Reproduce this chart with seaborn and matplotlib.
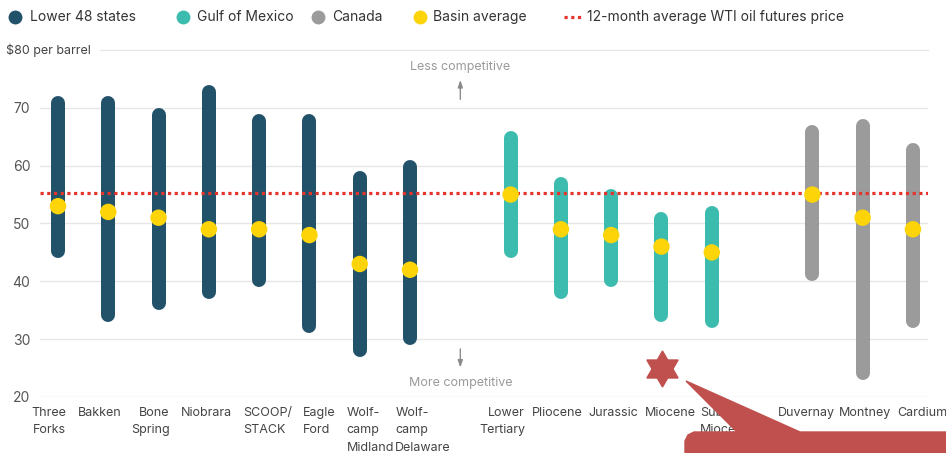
import matplotlib
matplotlib.use("Agg")
import matplotlib.pyplot as plt
import matplotlib.transforms as mtransforms
from matplotlib.lines import Line2D
from matplotlib.patches import Polygon, RegularPolygon
import numpy as np
import pandas as pd
import seaborn as sns

# ---- data -------------------------------------------------------------
basins = ["Three\nForks", "Bakken", "Bone\nSpring", "Niobrara", "SCOOP/\nSTACK",
          "Eagle\nFord", "Wolf-\ncamp\nMidland", "Wolf-\ncamp\nDelaware",
          "Lower\nTertiary", "Pliocene", "Jurassic", "Miocene", "Subsalt\nMiocene",
          "Duvernay", "Montney", "Cardium"]
regions = ["Lower 48 states"] * 8 + ["Gulf of Mexico"] * 5 + ["Canada"] * 3
low_price = [44, 33, 35, 37, 39, 31, 27, 29, 44, 37, 39, 33, 32, 40, 23, 32]
high_price = [72, 72, 70, 74, 69, 69, 59, 61, 66, 58, 56, 52, 53, 67, 68, 64]
basin_avg = [53, 52, 51, 49, 49, 48, 43, 42, 55, 49, 48, 46, 45, 55, 51, 49]
wti_avg = 55.3
y_ticks = [20, 30, 40, 50, 60, 70]

region_order = ["Lower 48 states", "Gulf of Mexico", "Canada"]
palette = {"Lower 48 states": "#22526a", "Gulf of Mexico": "#3cbcae", "Canada": "#9b9b9b"}
avg_color = "#fdd408"
wti_color = "#e5342b"

# label layout: horizontal nudge (px) and alignment of wrapped lines
label_shift = [-9.5, -9, -8.5, -2.5, 8.5, 10, 10.5, 13,
               -8.5, -4, 2.5, 8.5, 14, -5.5, 2, 9]
label_align = ["right", "center", "right", "center", "left", "left", "left", "left",
               "right", "center", "center", "center", "left", "center", "center", "center"]

df = pd.DataFrame({"basin": basins, "region": regions, "low": low_price,
                   "high": high_price, "avg": basin_avg})
# leave one empty slot between regions
df["slot"] = np.arange(len(df)) + df["region"].map(region_order.index)

# ---- figure -----------------------------------------------------------
sns.set_theme(style="white")
plt.rcParams["font.family"] = ["Inter", "DejaVu Sans"]

W, H = 946, 453
fig = plt.figure(figsize=(W / 100, H / 100), dpi=100)
ax = fig.add_axes([40 / W, 1 - 397 / H, 888 / W, 347 / H])
ax.set_xlim(-0.358, 17.30)
ax.set_ylim(20, 80)

# horizontal grid
ax.set_yticks(y_ticks)
ax.yaxis.grid(True, color="#e6e6e6", lw=1)
ax.set_axisbelow(True)
ax.axhline(80, xmin=60 / 888, xmax=1, color="#e6e6e6", lw=1, clip_on=False)
ax.tick_params(axis="y", length=0, pad=7, labelsize=10, labelcolor="#555555")
ax.text(-34 / 888, 80, "$80 per barrel", transform=ax.get_yaxis_transform(),
        ha="left", va="center", fontsize=9, color="#444444")

# range bars with rounded ends that stay inside low..high
bar_px = 14
cap = (bar_px / 2) / (347 / 60)
for reg in region_order:
    sub = df[df["region"] == reg]
    lc = ax.vlines(sub["slot"], sub["low"] + cap, sub["high"] - cap,
                   color=palette[reg], lw=bar_px * 72 / 100, zorder=2)
    lc.set_capstyle("round")

# basin averages
sns.scatterplot(data=df, x="slot", y="avg", color=avg_color, s=140,
                edgecolor="none", zorder=4, ax=ax, legend=False)

# WTI futures average
ax.axhline(wti_avg, color=wti_color, lw=2.3, linestyle=(0, (1, 1.1)), zorder=3)

# competitiveness hints
ax.text(8, 77.1, "Less competitive", ha="center", va="center", fontsize=9, color="#9a9a9a")
ax.annotate("", xy=(8, 75.3), xytext=(8, 71.0),
            arrowprops=dict(arrowstyle="-|>,head_length=0.35,head_width=0.12",
                            color="#8a8a8a", lw=1))
ax.text(8, 22.5, "More competitive", ha="center", va="center", fontsize=9, color="#9a9a9a")
ax.annotate("", xy=(8, 24.6), xytext=(8, 28.8),
            arrowprops=dict(arrowstyle="-|>,head_length=0.35,head_width=0.12",
                            color="#8a8a8a", lw=1))

# category labels
ax.set_xticks(df["slot"], labels=df["basin"])
ax.tick_params(axis="x", length=0, pad=7, labelsize=9, labelcolor="#444444")
for t, dx, al in zip(ax.get_xticklabels(), label_shift, label_align):
    t.set_linespacing(1.62)
    t.set_multialignment(al)
    t.set_transform(t.get_transform() +
                    mtransforms.ScaledTranslation(dx / 100, 0, fig.dpi_scale_trans))
ax.set_xlabel("")
ax.set_ylabel("")
sns.despine(ax=ax, left=True, bottom=True)

# ---- legend across the top -------------------------------------------
def fx(x):
    return x / W

def fy(y):
    return 1 - y / H

leg_y = 17
items = [(15, 30, palette["Lower 48 states"], "Lower 48 states"),
         (183, 197, palette["Gulf of Mexico"], "Gulf of Mexico"),
         (318, 332, palette["Canada"], "Canada"),
         (420, 433, avg_color, "Basin average")]
for mx, tx, col, lab in items:
    fig.add_artist(Line2D([fx(mx)], [fy(leg_y)], marker="o", markersize=10,
                          color=col, markeredgewidth=0, transform=fig.transFigure))
    fig.text(fx(tx), fy(leg_y), lab, ha="left", va="center", fontsize=10, color="#333333")
fig.add_artist(Line2D([fx(564), fx(583)], [fy(leg_y), fy(leg_y)], color=wti_color,
                      lw=2.3, linestyle=(0, (1, 1.1)), transform=fig.transFigure))
fig.text(fx(587), fy(leg_y), "12-month average WTI oil futures price",
         ha="left", va="center", fontsize=10, color="#333333")

# ---- callout marker ---------------------------------------------------
px = mtransforms.IdentityTransform()
callout = "#c0504d"
cx, cy, r = 662.5, 369, 18
for ang in (0, np.pi):
    fig.add_artist(RegularPolygon((cx, H - cy), 3, radius=r, orientation=ang,
                                  color=callout, transform=px, zorder=10))
shape = [(686, 381), (800, 432), (946, 432), (946, 453), (685, 453), (685, 441),
         (688, 435), (694, 432), (737, 432)]
fig.add_artist(Polygon([(x, H - y) for x, y in shape], closed=True, color=callout,
                       transform=px, zorder=10))

fig.savefig("out.png", dpi=100)
